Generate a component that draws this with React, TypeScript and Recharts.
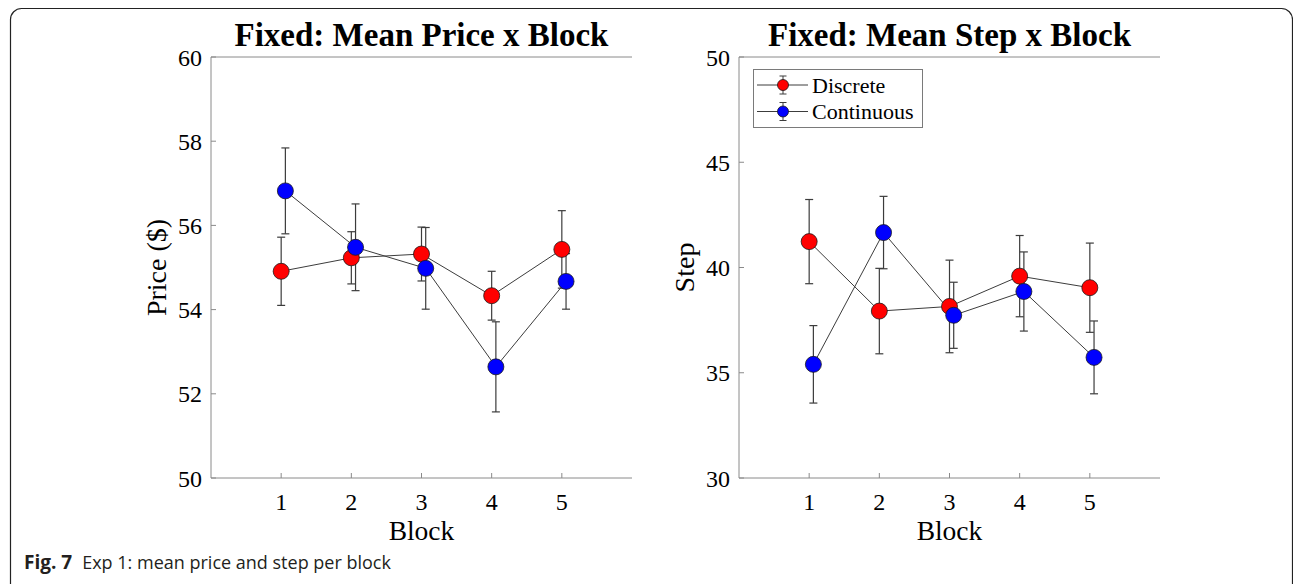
import React from 'react';
import { LineChart, Line, XAxis, YAxis, ErrorBar, Legend } from 'recharts';

// ---------- data ----------
const blocks = [1, 2, 3, 4, 5];
const blockDomain = [0, 6];
const seriesNames = ['Discrete', 'Continuous'];
const seriesColors = ['#ff0000', '#0000ff'];
const seriesXOffset = [0, 0.06];

const priceDiscrete = [54.91, 55.23, 55.32, 54.33, 55.43];
const priceDiscreteErr = [0.81, 0.62, 0.64, 0.58, 0.92];
const priceContinuous = [56.82, 55.48, 54.98, 52.64, 54.67];
const priceContinuousErr = [1.02, 1.03, 0.97, 1.07, 0.66];

const stepDiscrete = [41.23, 37.93, 38.15, 39.59, 39.04];
const stepDiscreteErr = [2.0, 2.03, 2.2, 1.93, 2.12];
const stepContinuous = [35.4, 41.66, 37.73, 38.86, 35.73];
const stepContinuousErr = [1.84, 1.72, 1.57, 1.88, 1.73];

const priceTicks = [50, 52, 54, 56, 58, 60];
const priceDomain = [50, 60];
const stepTicks = [30, 35, 40, 45, 50];
const stepDomain = [30, 50];

const titles = ['Fixed: Mean Price x Block', 'Fixed: Mean Step x Block'];
const yLabels = ['Price ($)', 'Step'];
const xLabel = 'Block';
const captionBold = 'Fig. 7';
const captionText = 'Exp 1: mean price and step per block';

// ---------- styles ----------
const SERIF = "'Liberation Serif', 'Times New Roman', serif";
const SANS = "'Open Sans', 'Noto Sans', sans-serif";
const AXIS = '#8a8a8a';
const LINE = '#3c3c3c';
const TEXT = '#000000';

function build(means: number[], errs: number[], offset: number) {
  return blocks.map((b, i) => ({ x: b + offset, y: means[i], err: errs[i] }));
}

type Series = { name: string; color: string; data: { x: number; y: number; err: number }[] };

function LegendBox({ series }: { series: Series[] }) {
  return (
    <svg width={171} height={60} style={{ display: 'block' }}>
      <rect x={0.5} y={0.5} width={169} height={58} fill="#fff" stroke="#7a7a7a" strokeWidth={1} />
      {series.map((s, i) => {
        const cy = 16 + i * 26.5;
        return (
          <g key={s.name}>
            <line x1={4} x2={55} y1={cy} y2={cy} stroke={LINE} strokeWidth={1} />
            <line x1={30} x2={30} y1={cy - 9} y2={cy + 9} stroke={LINE} strokeWidth={1} />
            <line x1={26.5} x2={33.5} y1={cy - 9} y2={cy - 9} stroke={LINE} strokeWidth={1} />
            <line x1={26.5} x2={33.5} y1={cy + 9} y2={cy + 9} stroke={LINE} strokeWidth={1} />
            <circle cx={30} cy={cy} r={5.5} fill={s.color} stroke="#1a1a1a" strokeWidth={0.8} />
            <text x={59} y={cy + 7.5} fontFamily={SERIF} fontSize={22} fill={TEXT}>
              {s.name}
            </text>
          </g>
        );
      })}
    </svg>
  );
}

function Panel({
  left,
  title,
  yLabel,
  yTicks,
  yDomain,
  series,
  legend,
}: {
  left: number;
  title: string;
  yLabel: string;
  yTicks: number[];
  yDomain: number[];
  series: Series[];
  legend: boolean;
}) {
  return (
    <div style={{ position: 'absolute', left, top: 0 }}>
      <LineChart width={650} height={584} margin={{ top: 0, right: 18, bottom: 2, left: 101 }}>
        <XAxis
          xAxisId="b"
          dataKey="x"
          type="number"
          orientation="bottom"
          domain={blockDomain}
          ticks={blocks}
          interval={0}
          height={104}
          tickSize={-5}
          tickMargin={20}
          stroke={AXIS}
          tick={{ fill: TEXT, fontSize: 24, fontFamily: SERIF }}
          label={{ value: xLabel, position: 'center', fontSize: 27.5, fontFamily: SERIF, fill: TEXT }}
        />
        <XAxis
          xAxisId="t"
          type="number"
          orientation="top"
          domain={blockDomain}
          ticks={blocks}
          interval={0}
          height={57}
          tickSize={-5}
          tick={false}
          stroke={AXIS}
          label={{
            content: (p: any) => (
              <text
                x={p.viewBox.x + p.viewBox.width / 2}
                y={46}
                textAnchor="middle"
                fontFamily={SERIF}
                fontWeight="bold"
                fontSize={33}
                fill={TEXT}
              >
                {title}
              </text>
            ),
          }}
        />
        <YAxis
          yAxisId="l"
          type="number"
          domain={yDomain}
          ticks={yTicks}
          interval={0}
          width={110}
          tickSize={-5}
          tickMargin={14}
          stroke={AXIS}
          tick={{ fill: TEXT, fontSize: 24, fontFamily: SERIF }}
          label={{ value: yLabel, position: 'center', angle: -90, fontSize: 28, fontFamily: SERIF, fill: TEXT }}
        />
        <YAxis
          yAxisId="r"
          type="number"
          orientation="right"
          domain={yDomain}
          ticks={yTicks}
          interval={0}
          width={0}
          tickSize={-5}
          tick={false}
          stroke={AXIS}
        />
        {series.map((s) => (
          <Line
            key={s.name}
            name={s.name}
            xAxisId="b"
            yAxisId="l"
            data={s.data}
            dataKey="y"
            stroke={LINE}
            strokeWidth={1}
            dot={{ r: 8, fill: s.color, stroke: '#1a1a1a', strokeWidth: 0.8 }}
            activeDot={false}
            isAnimationActive={false}
          >
            <ErrorBar dataKey="err" width={4} stroke={LINE} strokeWidth={1.2} direction="y" />
          </Line>
        ))}
        {legend && (
          <Legend
            layout="horizontal"
            verticalAlign="middle"
            align="center"
            wrapperStyle={{ position: 'absolute', left: 225, top: 69, width: 171, height: 60 }}
            content={() => <LegendBox series={series} />}
          />
        )}
      </LineChart>
    </div>
  );
}

export default function App() {
  const priceSeries: Series[] = [
    { name: seriesNames[0], color: seriesColors[0], data: build(priceDiscrete, priceDiscreteErr, seriesXOffset[0]) },
    { name: seriesNames[1], color: seriesColors[1], data: build(priceContinuous, priceContinuousErr, seriesXOffset[1]) },
  ];
  const stepSeries: Series[] = [
    { name: seriesNames[0], color: seriesColors[0], data: build(stepDiscrete, stepDiscreteErr, seriesXOffset[0]) },
    { name: seriesNames[1], color: seriesColors[1], data: build(stepContinuous, stepContinuousErr, seriesXOffset[1]) },
  ];
  return (
    <div style={{ position: 'absolute', left: 0, top: 0, width: 1293, height: 584, background: '#fff', overflow: 'hidden' }}>
      <svg width={1293} height={584} style={{ position: 'absolute', left: 0, top: 0 }}>
        <rect x={10.5} y={8.5} width={1282} height={600} rx={11} ry={11} fill="none" stroke="#222" strokeWidth={1.2} />
        <text x={24} y={569} fontFamily={SANS} fontSize={18} fill="#231f20">
          <tspan fontWeight="bold" fontSize={19}>{captionBold}</tspan>
          <tspan dx={10}>{captionText}</tspan>
        </text>
      </svg>
      <Panel left={0} title={titles[0]} yLabel={yLabels[0]} yTicks={priceTicks} yDomain={priceDomain} series={priceSeries} legend={false} />
      <Panel left={528} title={titles[1]} yLabel={yLabels[1]} yTicks={stepTicks} yDomain={stepDomain} series={stepSeries} legend={true} />
    </div>
  );
}
